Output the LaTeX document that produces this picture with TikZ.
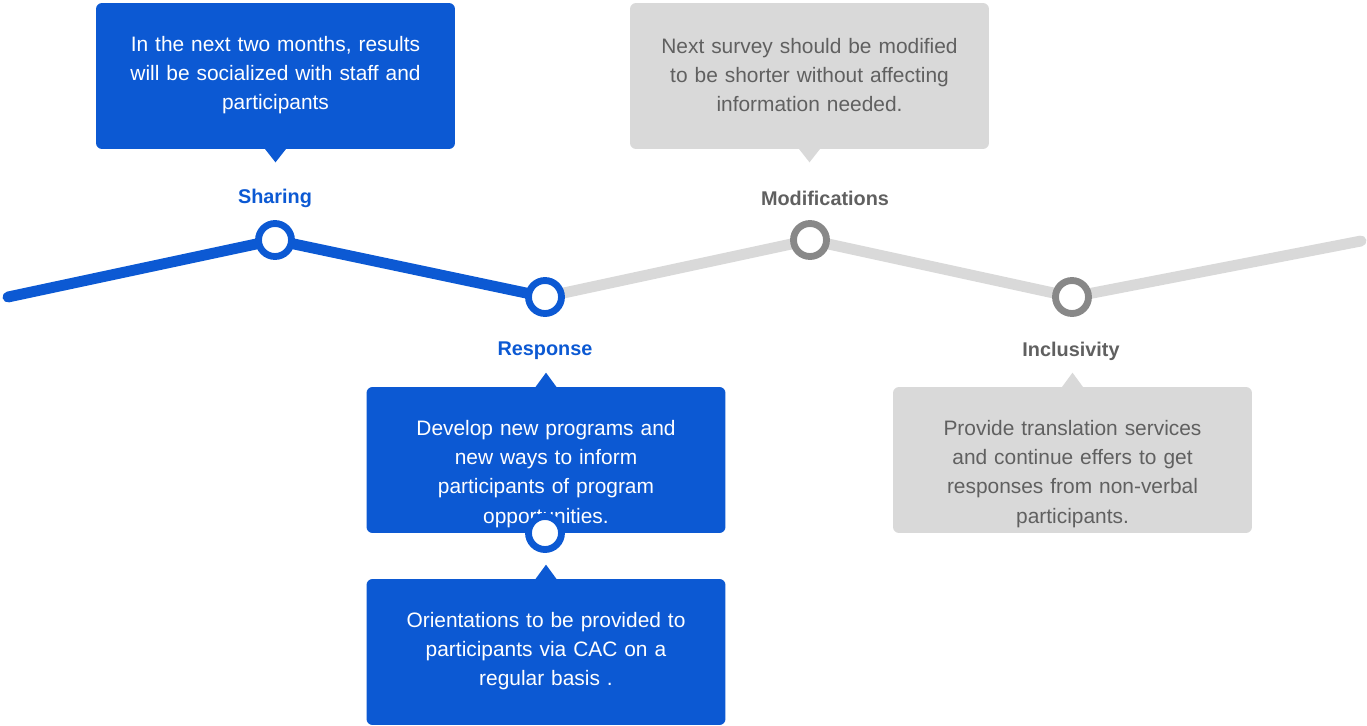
\documentclass[tikz,border=0pt]{standalone}
\usepackage{fontspec}
\setmainfont{Liberation Sans}
\definecolor{slblue}{RGB}{12,89,211}
\definecolor{slgrey}{RGB}{217,217,217}
\definecolor{slring}{RGB}{136,136,136}
\definecolor{sltext}{RGB}{96,96,96}
\begin{document}
\begin{tikzpicture}[x=0.02cm, y=-0.02cm,
    every node/.style={font=\fontsize{11.9}{16.6}\selectfont},
    bluebox/.style={fill=slblue, rounded corners=3.4pt, minimum width=7.18cm, minimum height=2.92cm, inner sep=0pt},
    greybox/.style={bluebox, fill=slgrey},
    bluetext/.style={text=white, text width=7cm, align=center, inner sep=0pt},
    greytext/.style={bluetext, text=sltext},
    ring/.style={circle, draw=slblue, fill=white, line width=3.9pt, minimum size=0.66cm, inner sep=0pt},
    greyring/.style={ring, draw=slring},
    heading/.style={font=\fontsize{11.3}{13}\selectfont\bfseries}]
    \useasboundingbox (0,0) rectangle (1367,725);

    \coordinate (start) at (8,297);
    \coordinate (pshr) at (275,240);
    \coordinate (prsp) at (545,297);
    \coordinate (pmod) at (810,240);
    \coordinate (pinc) at (1072,297);
    \coordinate (finish) at (1361,241);

    \draw[slgrey, line width=6.2pt, line cap=round, line join=round] (prsp) -- (pmod) -- (pinc) -- (finish);
    \draw[slblue, line width=6.2pt, line cap=round, line join=round] (start) -- (pshr) -- (prsp);

    \node[ring] (shr) at (pshr) {};
    \node[ring] (rsp) at (prsp) {};
    \node[greyring] (mod) at (pmod) {};
    \node[greyring] (inc) at (pinc) {};

    \node[heading, text=slblue] (shrlbl) at (275,198) {Sharing};
    \node[heading, text=sltext] (modlbl) at (825,198) {Modifications};
    \node[heading, text=slblue] (rsplbl) at (545,351) {Response};
    \node[heading, text=sltext] (inclbl) at (1071,351) {Inclusivity};

    \node[bluebox] (shrbox) at (275.5,76) {};
    \fill[slblue] ([xshift=-0.22cm,yshift=0.02cm]shrbox.south) -- ([xshift=0.22cm,yshift=0.02cm]shrbox.south) -- ([yshift=-0.26cm]shrbox.south) -- cycle;
    \node[bluetext] (shrtxt) at (275.5,75) {In the next two months, results\\ will be socialized with staff and\\ participants};

    \node[greybox] (modbox) at (809.5,76) {};
    \fill[slgrey] ([xshift=-0.22cm,yshift=0.02cm]modbox.south) -- ([xshift=0.22cm,yshift=0.02cm]modbox.south) -- ([yshift=-0.26cm]modbox.south) -- cycle;
    \node[greytext] (modtxt) at (809.5,75) {Next survey should be modified\\ to be shorter without affecting\\ information needed.};

    \node[bluebox] (rspbox) at (546,460) {};
    \fill[slblue] ([xshift=-0.22cm,yshift=-0.02cm]rspbox.north) -- ([xshift=0.22cm,yshift=-0.02cm]rspbox.north) -- ([yshift=0.28cm]rspbox.north) -- cycle;
    \node[bluetext] (rsptxt) at (546,474) {Develop new programs and\\ new ways to inform\\ participants of program\\ opportunities.};
    \node[ring] (rspend) at (545,533) {};

    \node[bluebox] (orbox) at (546,652) {};
    \fill[slblue] ([xshift=-0.22cm,yshift=-0.02cm]orbox.north) -- ([xshift=0.22cm,yshift=-0.02cm]orbox.north) -- ([yshift=0.28cm]orbox.north) -- cycle;
    \node[bluetext] (ortxt) at (546,651) {Orientations to be provided to\\ participants via CAC on a\\ regular basis .};

    \node[greybox] (incbox) at (1072.5,460) {};
    \fill[slgrey] ([xshift=-0.22cm,yshift=-0.02cm]incbox.north) -- ([xshift=0.22cm,yshift=-0.02cm]incbox.north) -- ([yshift=0.28cm]incbox.north) -- cycle;
    \node[greytext] (inctxt) at (1072.5,474) {Provide translation services\\ and continue effers to get\\ responses from non-verbal\\ participants.};
\end{tikzpicture}
\end{document}
